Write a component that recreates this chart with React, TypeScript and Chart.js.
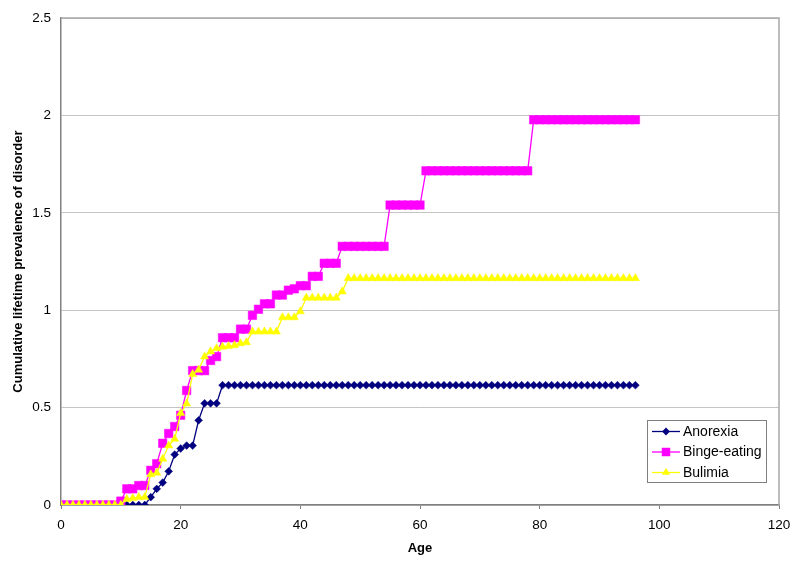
import React, { useEffect, useRef } from "react";
import { Chart, registerables } from "chart.js";

Chart.register(...registerables);

const ages = [
  0, 1, 2, 3, 4, 5, 6, 7, 8, 9,
  10, 11, 12, 13, 14, 15, 16, 17, 18, 19,
  20, 21, 22, 23, 24, 25, 26, 27, 28, 29,
  30, 31, 32, 33, 34, 35, 36, 37, 38, 39,
  40, 41, 42, 43, 44, 45, 46, 47, 48, 49,
  50, 51, 52, 53, 54, 55, 56, 57, 58, 59,
  60, 61, 62, 63, 64, 65, 66, 67, 68, 69,
  70, 71, 72, 73, 74, 75, 76, 77, 78, 79,
  80, 81, 82, 83, 84, 85, 86, 87, 88, 89,
  90, 91, 92, 93, 94, 95, 96,
];

const anorexia = [
  0, 0, 0, 0, 0, 0, 0, 0, 0, 0,
  0, 0, 0, 0, 0, 0.04, 0.083, 0.115, 0.173, 0.259,
  0.29, 0.305, 0.305, 0.435, 0.522, 0.522, 0.522, 0.615, 0.615, 0.615,
  0.615, 0.615, 0.615, 0.615, 0.615, 0.615, 0.615, 0.615, 0.615, 0.615,
  0.615, 0.615, 0.615, 0.615, 0.615, 0.615, 0.615, 0.615, 0.615, 0.615,
  0.615, 0.615, 0.615, 0.615, 0.615, 0.615, 0.615, 0.615, 0.615, 0.615,
  0.615, 0.615, 0.615, 0.615, 0.615, 0.615, 0.615, 0.615, 0.615, 0.615,
  0.615, 0.615, 0.615, 0.615, 0.615, 0.615, 0.615, 0.615, 0.615, 0.615,
  0.615, 0.615, 0.615, 0.615, 0.615, 0.615, 0.615, 0.615, 0.615, 0.615,
  0.615, 0.615, 0.615, 0.615, 0.615, 0.615, 0.615,
];

const bingeEating = [
  0, 0, 0, 0, 0, 0, 0, 0, 0, 0,
  0.02, 0.083, 0.083, 0.1, 0.1, 0.178, 0.212, 0.317, 0.367, 0.403,
  0.461, 0.588, 0.69, 0.69, 0.69, 0.742, 0.762, 0.859, 0.859, 0.859,
  0.903, 0.903, 0.974, 1.005, 1.033, 1.033, 1.078, 1.078, 1.103, 1.11,
  1.126, 1.126, 1.174, 1.174, 1.241, 1.241, 1.241, 1.328, 1.328, 1.328,
  1.328, 1.328, 1.328, 1.328, 1.328, 1.54, 1.54, 1.54, 1.54, 1.54,
  1.54, 1.716, 1.716, 1.716, 1.716, 1.716, 1.716, 1.716, 1.716, 1.716,
  1.716, 1.716, 1.716, 1.716, 1.716, 1.716, 1.716, 1.716, 1.716, 1.978,
  1.978, 1.978, 1.978, 1.978, 1.978, 1.978, 1.978, 1.978, 1.978, 1.978,
  1.978, 1.978, 1.978, 1.978, 1.978, 1.978, 1.978,
];

const bulimia = [
  0, 0, 0, 0, 0, 0, 0, 0, 0, 0,
  0, 0.03, 0.035, 0.04, 0.04, 0.157, 0.165, 0.237, 0.305, 0.339,
  0.471, 0.52, 0.672, 0.694, 0.762, 0.788, 0.804, 0.812, 0.816, 0.82,
  0.83, 0.835, 0.89, 0.89, 0.89, 0.89, 0.89, 0.963, 0.963, 0.963,
  0.994, 1.064, 1.064, 1.064, 1.064, 1.064, 1.064, 1.096, 1.164, 1.164,
  1.164, 1.164, 1.164, 1.164, 1.164, 1.164, 1.164, 1.164, 1.164, 1.164,
  1.164, 1.164, 1.164, 1.164, 1.164, 1.164, 1.164, 1.164, 1.164, 1.164,
  1.164, 1.164, 1.164, 1.164, 1.164, 1.164, 1.164, 1.164, 1.164, 1.164,
  1.164, 1.164, 1.164, 1.164, 1.164, 1.164, 1.164, 1.164, 1.164, 1.164,
  1.164, 1.164, 1.164, 1.164, 1.164, 1.164, 1.164,
];

const seriesNames = ["Anorexia", "Binge-eating", "Bulimia"];
const xTitle = "Age";
const yTitle = "Cumulative lifetime prevalence of disorder";
const yTickLabels = ["0", "0.5", "1", "1.5", "2", "2.5"];

const FONT = "'Liberation Sans', Arial, Helvetica, sans-serif";

function drawMarker(ctx: CanvasRenderingContext2D, style: string, x: number, y: number, r: number) {
  ctx.beginPath();
  if (style === "rectRot") {
    ctx.moveTo(x - r, y);
    ctx.lineTo(x, y - r);
    ctx.lineTo(x + r, y);
    ctx.lineTo(x, y + r);
    ctx.closePath();
  } else if (style === "rect") {
    const s = r * Math.SQRT1_2;
    ctx.rect(x - s, y - s, 2 * s, 2 * s);
  } else {
    const a = (2 * Math.PI) / 3;
    ctx.moveTo(x, y - r);
    ctx.lineTo(x + Math.sin(a) * r, y - Math.cos(a) * r);
    ctx.lineTo(x + Math.sin(2 * a) * r, y - Math.cos(2 * a) * r);
    ctx.closePath();
  }
  ctx.fill();
}

export default function App() {
  const ref = useRef<HTMLCanvasElement>(null);

  useEffect(() => {
    if (!ref.current) return;
    const toPts = (vals: number[]) => ages.map((a, i) => ({ x: a, y: vals[i] }));

    const framePlugin = {
      id: "frameAndLegend",
      afterDraw(chart: any) {
        const { ctx, chartArea } = chart;
        ctx.save();
        // plot area frame (top and right)
        ctx.strokeStyle = "#a8a8a8";
        ctx.lineWidth = 1.5;
        ctx.beginPath();
        ctx.moveTo(chartArea.left, chartArea.top);
        ctx.lineTo(chartArea.right, chartArea.top);
        ctx.lineTo(chartArea.right, chartArea.bottom);
        ctx.stroke();

        // legend box
        const w = 119;
        const h = 62;
        const bx = chartArea.right - 13 - w;
        const by = chartArea.bottom - 23 - h;
        ctx.fillStyle = "#ffffff";
        ctx.fillRect(bx, by, w, h);
        ctx.strokeStyle = "#808080";
        ctx.lineWidth = 1;
        ctx.strokeRect(bx + 0.5, by + 0.5, w, h);
        ctx.font = `14px ${FONT}`;
        ctx.textBaseline = "middle";
        ctx.textAlign = "left";
        chart.data.datasets.forEach((ds: any, i: number) => {
          const ry = by + 11.5 + i * 20.5;
          ctx.strokeStyle = ds.borderColor;
          ctx.lineWidth = ds.borderWidth;
          ctx.beginPath();
          ctx.moveTo(bx + 5, ry);
          ctx.lineTo(bx + 33, ry);
          ctx.stroke();
          ctx.fillStyle = ds.backgroundColor;
          drawMarker(ctx, ds.pointStyle, bx + 19, ry, ds.pointRadius);
          ctx.fillStyle = "#000000";
          ctx.fillText(ds.label, bx + 36, ry + 0.5);
        });
        ctx.restore();
      },
    };

    const chart = new Chart(ref.current, {
      type: "line",
      data: {
        datasets: [
          {
            label: seriesNames[0],
            data: toPts(anorexia),
            borderColor: "#000080",
            backgroundColor: "#000080",
            pointStyle: "rectRot",
            pointRadius: 3.9,
            pointBorderWidth: 0.5,
            borderWidth: 1.3,
            order: 3,
          },
          {
            label: seriesNames[1],
            data: toPts(bingeEating),
            borderColor: "#ff00ff",
            backgroundColor: "#ff00ff",
            pointStyle: "rect",
            pointRadius: 6,
            pointBorderWidth: 0.5,
            borderWidth: 1.3,
            order: 2,
          },
          {
            label: seriesNames[2],
            data: toPts(bulimia),
            borderColor: "#ffff00",
            backgroundColor: "#ffff00",
            pointStyle: "triangle",
            pointRadius: 4.7,
            pointBorderWidth: 0.5,
            borderWidth: 1.3,
            order: 1,
          },
        ],
      },
      options: {
        animation: false,
        responsive: true,
        maintainAspectRatio: false,
        events: [],
        layout: { padding: { top: 14, right: 21, left: 0, bottom: 0 } },
        elements: { line: { tension: 0 } },
        plugins: {
          legend: { display: false },
          tooltip: { enabled: false },
        },
        scales: {
          x: {
            type: "linear",
            min: 0,
            max: 120,
            afterFit(scale: any) {
              scale.height = 57;
            },
            ticks: {
              stepSize: 20,
              color: "#000000",
              font: { family: FONT, size: 13.5 },
              padding: 8,
              maxRotation: 0,
            },
            grid: {
              drawOnChartArea: false,
              drawTicks: true,
              tickLength: 4,
              color: "#808080",
            },
            border: { color: "#808080", width: 1.5 },
            title: {
              display: true,
              text: xTitle,
              color: "#000000",
              font: { family: FONT, size: 13, weight: "bold" },
              padding: { top: 0, bottom: 6 },
            },
          },
          y: {
            min: 0,
            max: 2.5,
            afterFit(scale: any) {
              scale.width = 61;
            },
            ticks: {
              stepSize: 0.5,
              color: "#000000",
              font: { family: FONT, size: 13.5 },
              padding: 10,
              callback: (_v: any, i: number) => yTickLabels[i],
            },
            grid: {
              drawTicks: false,
              color: "#c4c4c4",
              lineWidth: 1,
            },
            border: { color: "#808080", width: 1.5 },
            title: {
              display: true,
              text: yTitle,
              color: "#000000",
              font: { family: FONT, size: 13, weight: "bold" },
              padding: { top: 11, bottom: 0 },
            },
          },
        },
      },
      plugins: [framePlugin],
    } as any);

    return () => chart.destroy();
  }, []);

  return (
    <div
      style={{
        position: "fixed",
        left: 0,
        top: 0,
        width: 800,
        height: 562,
        background: "#ffffff",
      }}
    >
      <canvas ref={ref} />
    </div>
  );
}
